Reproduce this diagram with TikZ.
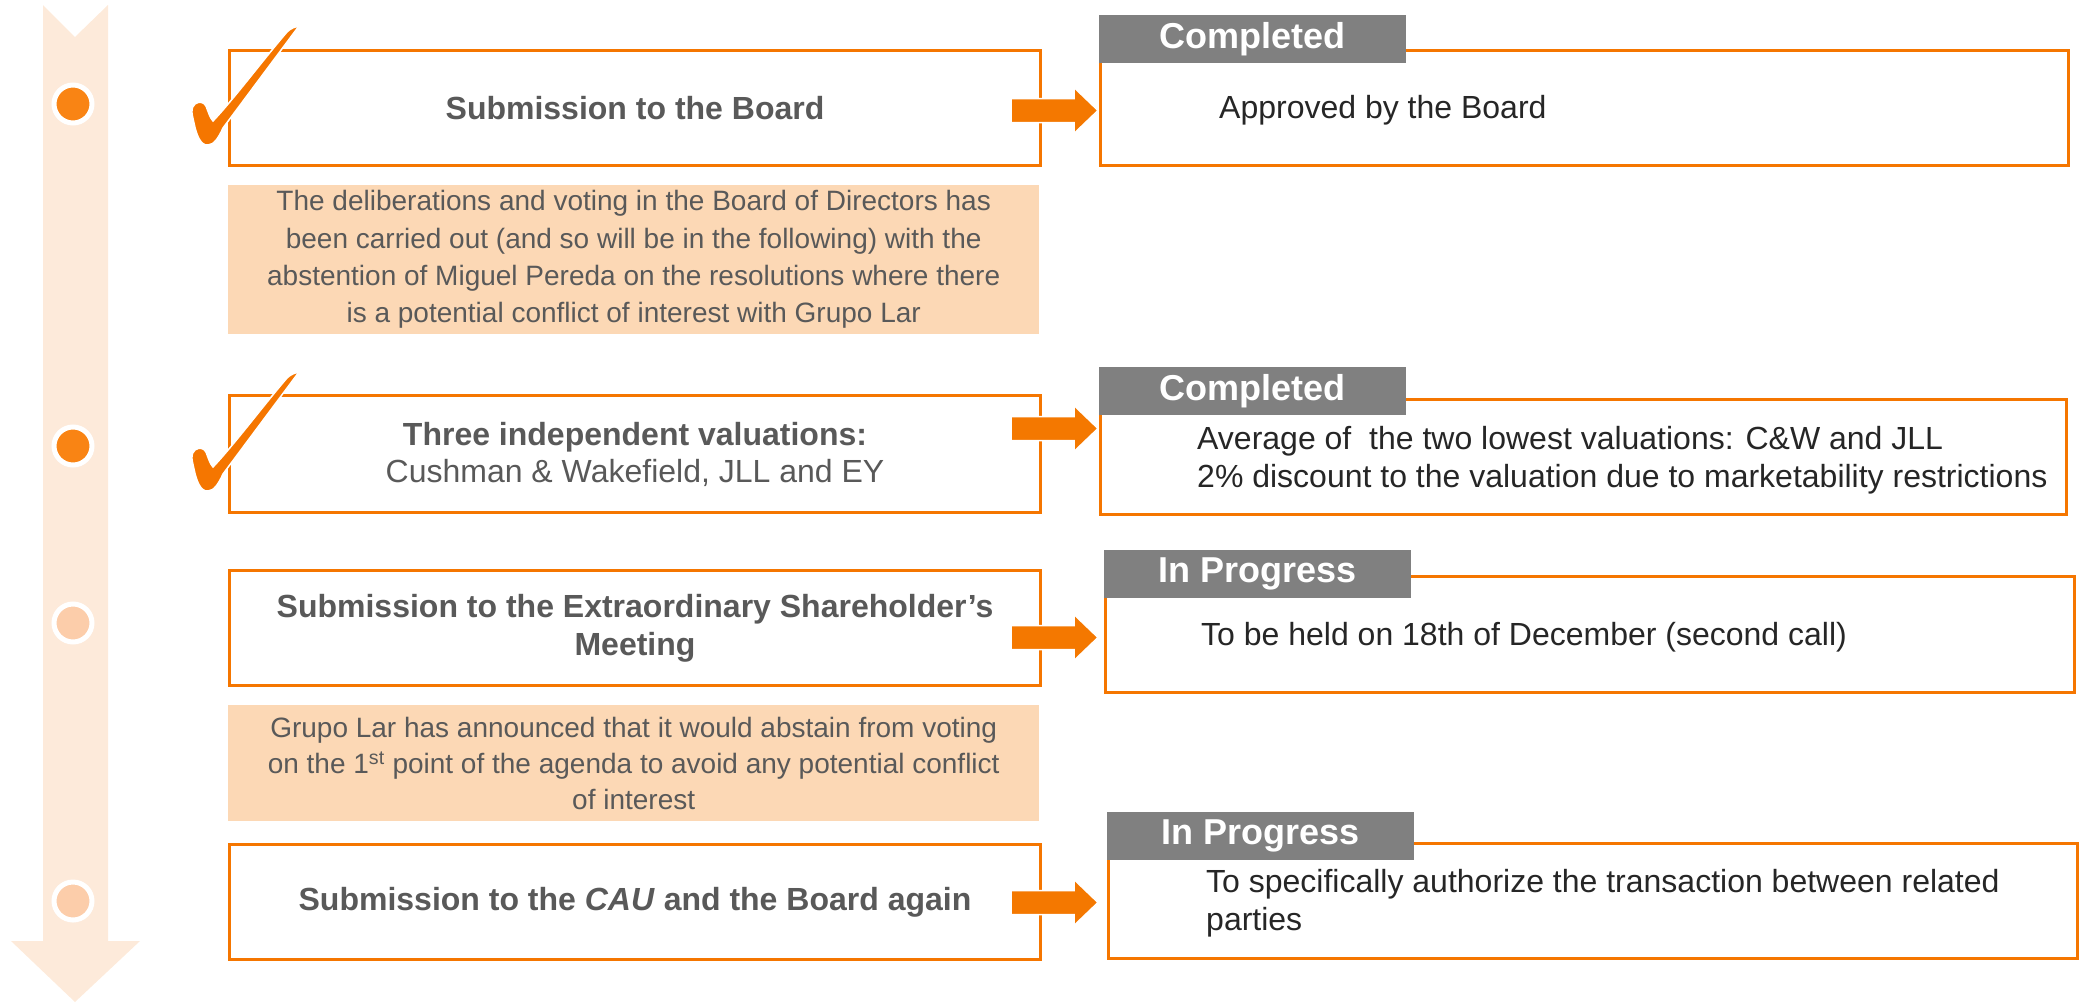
\documentclass[tikz,border=0pt]{standalone}
\usepackage{fontspec}
\setmainfont{Liberation Sans}
\usetikzlibrary{calc}

\definecolor{boxorange}{RGB}{245,118,0}
\definecolor{arroworange}{RGB}{244,120,0}
\definecolor{notepeach}{RGB}{252,216,181}
\definecolor{timelinepeach}{RGB}{253,234,218}
\definecolor{dotdark}{RGB}{249,132,20}
\definecolor{dotlight}{RGB}{252,205,170}
\definecolor{tabgray}{RGB}{128,128,128}
\definecolor{leftgray}{RGB}{89,89,89}
\definecolor{righttext}{RGB}{38,38,38}

% block arrow between two points lying on the same horizontal line
\newcommand{\blockarrow}[2]{%
  \filldraw[arrowshape] let \p1=(#1), \p2=(#2) in
    (\x1,\y1+12pt) -- (\x2-24pt,\y1+12pt) -- (\x2-24pt,\y1+23pt) -- (\x2,\y1)
    -- (\x2-24pt,\y1-23pt) -- (\x2-24pt,\y1-12pt) -- (\x1,\y1-12pt) -- cycle;}

\begin{document}
\begin{tikzpicture}[x=1pt,y=-1pt,
  stepbox/.style={draw=boxorange, line width=3pt, fill=white,
    minimum width=811pt, minimum height=115pt, inner sep=0pt,
    anchor=north west, align=center, text=leftgray,
    font=\fontsize{32}{38}\selectfont\bfseries},
  resultbox/.style={draw=boxorange, line width=3pt, fill=white,
    inner sep=0pt, anchor=north west, minimum height=115pt},
  notebox/.style={fill=notepeach, minimum width=811pt, inner sep=0pt,
    anchor=north west, align=center, text=leftgray},
  statustab/.style={fill=tabgray, minimum width=307pt, minimum height=48pt,
    inner sep=0pt, anchor=north west, text=white,
    font=\fontsize{36}{40}\selectfont\bfseries},
  resulttext/.style={anchor=west, align=left, inner sep=0pt, text=righttext,
    font=\fontsize{32}{37.5}\selectfont},
  arrowshape/.style={fill=arroworange, draw=white, line width=1.5pt},
  dotdone/.style={circle, fill=dotdark, draw=white, line width=5pt,
    minimum size=38pt, inner sep=0pt},
  dotopen/.style={circle, fill=dotlight, draw=white, line width=5pt,
    minimum size=38pt, inner sep=0pt},
  checkmark/.pic={
    \filldraw[fill=boxorange, draw=white, line width=1.5pt]
      (0,0) .. controls (-8,1) and (-12,-12) .. (-14,-22)
      .. controls (-16,-31) and (-18,-37) .. (-13,-41)
      .. controls (-9,-44) and (-4,-43) .. (-2,-39)
      .. controls (0,-34) and (2,-27) .. (5,-24)
      .. controls (25,-45) and (55,-85) .. (79,-113)
      .. controls (83,-117) and (87,-118) .. (91,-119)
      -- (15,-17)
      .. controls (11,-8) and (6,0) .. (0,0) -- cycle;
  }
]
\useasboundingbox (0,0) rectangle (2080,1002);

% timeline arrow on the left
\fill[timelinepeach] (43,5) -- (75,37) -- (108,5) -- (108,941) -- (140,941)
  -- (75,1002) -- (11,941) -- (43,941) -- cycle;
\node[dotdone] (d1) at (73,104) {};
\node[dotdone] (d2) at (73,446) {};
\node[dotopen] (d3) at (73,623) {};
\node[dotopen] (d4) at (73,901) {};

% process steps
\node[stepbox] (L1) at (228,49) {Submission to the Board};
\node[notebox, minimum height=149pt, font=\fontsize{28}{37.3}\selectfont] (N1) at (228,185)
  {The deliberations and voting in the Board of Directors has\\
   been carried out (and so will be in the following) with the\\
   abstention of Miguel Pereda on the resolutions where there\\
   is a potential conflict of interest with Grupo Lar};
\node[stepbox, minimum height=117pt, font=\fontsize{32}{37}\selectfont\bfseries] (L2) at (228,394)
  {Three independent valuations:\\\mdseries Cushman \& Wakefield, JLL and EY};
\node[stepbox] (L3) at (228,569)
  {Submission to the Extraordinary Shareholder’s\\Meeting};
\node[notebox, minimum height=116pt, font=\fontsize{28}{36}\selectfont] (N2) at (228,705)
  {Grupo Lar has announced that it would abstain from voting\\
   on the 1\textsuperscript{st} point of the agenda to avoid any potential conflict\\
   of interest};
\node[stepbox] (L4) at (228,843)
  {Submission to the \textit{CAU} and the Board again};

% check marks for the completed steps
\pic at (208,145) {checkmark};
\pic at (208,491) {checkmark};

% result boxes
\node[resultbox, minimum width=968pt] (R1) at (1099,49) {};
\node[statustab] (T1) at (1099,15) {Completed};
\node[resulttext] (R1t) at (1219,110) {Approved by the Board};

\node[resultbox, minimum width=966pt] (R2) at (1099,398) {};
\node[statustab] (T2) at (1099,367) {Completed};
\node[resulttext] (R2t) at (1197,460)
  {Average of \ the two lowest valuations: C\&W and JLL\\
   2\% discount to the valuation due to marketability restrictions};

\node[resultbox, minimum width=969pt, minimum height=116pt] (R3) at (1104,575) {};
\node[statustab] (T3) at (1104,550) {In Progress};
\node[resulttext] (R3t) at (1201,637) {To be held on 18th of December (second call)};

\node[resultbox, minimum width=969pt] (R4) at (1107,842) {};
\node[statustab] (T4) at (1107,812) {In Progress};
\node[resulttext, font=\fontsize{32}{38}\selectfont] (R4t) at (1206,903)
  {To specifically authorize the transaction between related\\parties};

% connectors from each step to its result
\coordinate (s1) at ($(L1.east)+(-31,2.5)$);
\coordinate (e1) at ($(R1.west |- s1)+(-1,0)$);
\coordinate (s2) at ($(L2.east)+(-31,-25.5)$);
\coordinate (e2) at ($(R2.west |- s2)+(-1,0)$);
\coordinate (s3) at ($(L3.east)+(-31,9.5)$);
\coordinate (e3) at ($(R3.west |- s3)+(-6,0)$);
\coordinate (s4) at ($(L4.east)+(-31,0.5)$);
\coordinate (e4) at ($(R4.west |- s4)+(-9,0)$);
\blockarrow{s1}{e1}
\blockarrow{s2}{e2}
\blockarrow{s3}{e3}
\blockarrow{s4}{e4}
\end{tikzpicture}
\end{document}
